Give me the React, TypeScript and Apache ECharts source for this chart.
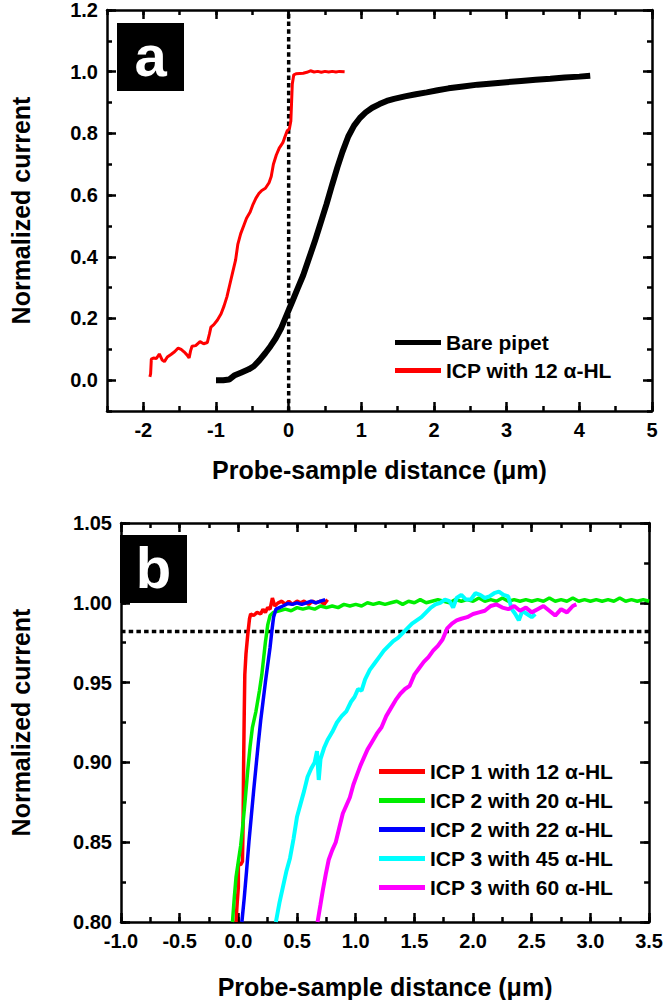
import React, { useEffect, useRef } from "react";
import * as echarts from "echarts";

const FONT = "Arial, 'Liberation Sans', Helvetica, sans-serif";

// ---------- Panel a ----------
const aMajorX = [-2, -1, 0, 1, 2, 3, 4, 5];
const aMajorY = [0, 0.2, 0.4, 0.6, 0.8, 1.0, 1.2];

const barePipet: number[][] = [
  [-1.0, 0.0], [-0.9, 0.0], [-0.82, 0.002], [-0.75, 0.015], [-0.65, 0.025], [-0.55, 0.035],
  [-0.48, 0.045], [-0.4, 0.065], [-0.32, 0.088], [-0.25, 0.11], [-0.18, 0.135], [-0.1, 0.17],
  [-0.03, 0.21], [0.05, 0.255], [0.12, 0.295], [0.2, 0.34], [0.28, 0.395], [0.36, 0.45],
  [0.44, 0.51], [0.52, 0.57], [0.6, 0.635], [0.67, 0.69], [0.74, 0.74], [0.82, 0.79],
  [0.9, 0.825], [0.98, 0.85], [1.06, 0.868], [1.15, 0.883], [1.25, 0.895], [1.35, 0.905],
  [1.45, 0.912], [1.6, 0.92], [1.75, 0.927], [1.9, 0.933], [2.05, 0.94], [2.2, 0.946],
  [2.4, 0.952], [2.6, 0.958], [2.8, 0.962], [3.0, 0.966], [3.2, 0.97], [3.4, 0.974],
  [3.6, 0.977], [3.8, 0.981], [4.0, 0.984], [4.15, 0.987],
];

const icp12: number[][] = [
  [-1.91, 0.011], [-1.9, 0.02], [-1.89, 0.068], [-1.86, 0.072], [-1.82, 0.07], [-1.78, 0.085],
  [-1.74, 0.065], [-1.71, 0.06], [-1.67, 0.075], [-1.62, 0.083], [-1.57, 0.092], [-1.52, 0.104],
  [-1.48, 0.1], [-1.44, 0.092], [-1.4, 0.082], [-1.37, 0.072], [-1.35, 0.095], [-1.33, 0.11],
  [-1.28, 0.112], [-1.22, 0.125], [-1.17, 0.118], [-1.12, 0.122], [-1.09, 0.15], [-1.07, 0.172],
  [-1.03, 0.18], [-0.98, 0.195], [-0.93, 0.215], [-0.89, 0.24], [-0.85, 0.27], [-0.81, 0.31],
  [-0.77, 0.35], [-0.73, 0.39], [-0.7, 0.44], [-0.66, 0.475], [-0.62, 0.5], [-0.58, 0.525],
  [-0.53, 0.545], [-0.49, 0.57], [-0.45, 0.59], [-0.41, 0.605], [-0.37, 0.615], [-0.32, 0.622],
  [-0.27, 0.64], [-0.24, 0.66], [-0.21, 0.7], [-0.17, 0.73], [-0.13, 0.752], [-0.08, 0.77],
  [-0.05, 0.79], [-0.02, 0.808], [0.01, 0.815], [0.03, 0.84], [0.04, 0.9], [0.05, 0.96],
  [0.07, 0.99], [0.1, 0.993], [0.15, 0.994], [0.2, 0.995], [0.25, 0.998], [0.3, 1.003],
  [0.35, 0.999], [0.4, 1.001], [0.45, 0.998], [0.5, 1.001], [0.55, 0.999], [0.6, 1.001],
  [0.65, 0.999], [0.7, 1.001], [0.77, 1.0],
];

const aRefLine: number[][] = [[0, -0.1], [0, 1.2]];

// ---------- Panel b ----------
const bMajorX = [-1.0, -0.5, 0.0, 0.5, 1.0, 1.5, 2.0, 2.5, 3.0, 3.5];
const bMajorY = [0.8, 0.85, 0.9, 0.95, 1.0, 1.05];

const icp1w12: number[][] = [
  [-0.02, 0.8], [-0.01, 0.812], [0.0, 0.822], [0.0, 0.836], [0.02, 0.836], [0.035, 0.838],
  [0.04, 0.86], [0.045, 0.9], [0.05, 0.93], [0.055, 0.955], [0.065, 0.968], [0.08, 0.98],
  [0.095, 0.99], [0.105, 0.993], [0.13, 0.992], [0.16, 0.994], [0.19, 0.993], [0.21, 0.996],
  [0.23, 0.994], [0.25, 0.997], [0.27, 0.996], [0.29, 1.003], [0.31, 0.998], [0.34, 1.0],
  [0.37, 1.001], [0.4, 0.999], [0.43, 1.001], [0.46, 0.999], [0.5, 1.001], [0.53, 1.0],
  [0.56, 1.001], [0.6, 0.999], [0.63, 1.001], [0.66, 1.0], [0.7, 1.001], [0.73, 0.999],
  [0.76, 1.002],
];

const icp2w20: number[][] = [
  [-0.05, 0.8], [-0.035, 0.815], [-0.02, 0.828], [0.0, 0.838], [0.02, 0.848], [0.04, 0.862],
  [0.06, 0.878], [0.08, 0.895], [0.1, 0.91], [0.12, 0.922], [0.15, 0.932], [0.18, 0.945],
  [0.2, 0.955], [0.215, 0.965], [0.23, 0.975], [0.25, 0.986], [0.27, 0.992], [0.3, 0.994],
  [0.35, 0.995], [0.4, 0.996], [0.45, 0.995], [0.5, 0.997], [0.55, 0.996], [0.6, 0.997],
  [0.65, 0.996], [0.7, 0.998], [0.75, 0.997], [0.8, 0.998], [0.85, 0.997], [0.9, 0.999],
  [0.95, 0.998], [1.0, 0.999], [1.05, 0.998], [1.1, 1.0], [1.15, 0.999], [1.2, 1.0],
  [1.25, 0.999], [1.3, 1.0], [1.35, 1.001], [1.4, 0.999], [1.45, 1.001], [1.5, 1.0],
  [1.55, 1.002], [1.6, 1.0], [1.65, 1.001], [1.7, 1.002], [1.75, 1.001], [1.8, 1.0],
  [1.85, 1.002], [1.9, 1.001], [1.95, 1.002], [2.0, 1.001], [2.05, 1.003], [2.1, 1.001],
  [2.15, 1.002], [2.2, 1.001], [2.25, 1.003], [2.3, 1.001], [2.35, 1.002], [2.4, 1.001],
  [2.45, 1.002], [2.5, 1.001], [2.55, 1.002], [2.6, 1.001], [2.65, 1.003], [2.7, 1.001],
  [2.75, 1.002], [2.8, 1.001], [2.85, 1.003], [2.9, 1.001], [2.95, 1.002], [3.0, 1.001],
  [3.05, 1.002], [3.1, 1.001], [3.15, 1.002], [3.2, 1.001], [3.25, 1.003], [3.3, 1.001],
  [3.35, 1.002], [3.4, 1.001], [3.45, 1.002], [3.5, 1.001],
];

const icp2w22: number[][] = [
  [0.03, 0.8], [0.05, 0.815], [0.07, 0.832], [0.09, 0.85], [0.11, 0.866], [0.13, 0.882],
  [0.15, 0.897], [0.17, 0.912], [0.19, 0.926], [0.21, 0.938], [0.23, 0.95], [0.25, 0.961],
  [0.27, 0.972], [0.285, 0.982], [0.3, 0.991], [0.32, 0.996], [0.35, 0.997], [0.38, 0.998],
  [0.42, 0.9995], [0.46, 0.999], [0.5, 1.0], [0.54, 0.999], [0.58, 1.0], [0.62, 1.001],
  [0.66, 1.0], [0.7, 1.001], [0.74, 1.002],
];

const icp3w45: number[][] = [
  [0.32, 0.8], [0.35, 0.812], [0.38, 0.822], [0.41, 0.832], [0.44, 0.84], [0.47, 0.852],
  [0.5, 0.866], [0.53, 0.874], [0.56, 0.882], [0.59, 0.891], [0.62, 0.896], [0.65, 0.9],
  [0.67, 0.907], [0.685, 0.889], [0.7, 0.902], [0.73, 0.909], [0.76, 0.914], [0.8, 0.919],
  [0.84, 0.925], [0.88, 0.929], [0.92, 0.932], [0.96, 0.938], [0.99, 0.941], [1.02, 0.946],
  [1.05, 0.945], [1.08, 0.952], [1.12, 0.958], [1.16, 0.962], [1.2, 0.966], [1.24, 0.97],
  [1.28, 0.973], [1.32, 0.976], [1.36, 0.978], [1.4, 0.981], [1.44, 0.984], [1.48, 0.987],
  [1.52, 0.989], [1.56, 0.991], [1.6, 0.994], [1.64, 0.997], [1.68, 0.999], [1.72, 1.0],
  [1.76, 1.002], [1.8, 1.001], [1.83, 0.997], [1.86, 1.003], [1.9, 1.005], [1.94, 1.002],
  [1.98, 1.002], [2.02, 1.006], [2.06, 1.005], [2.1, 1.003], [2.14, 1.004], [2.18, 1.006],
  [2.22, 1.007], [2.26, 1.005], [2.3, 1.004], [2.33, 0.996], [2.36, 0.993], [2.39, 0.989],
  [2.42, 0.995], [2.46, 0.993], [2.5, 0.991], [2.53, 0.993],
];

const icp3w60: number[][] = [
  [0.675, 0.8], [0.7, 0.811], [0.72, 0.82], [0.745, 0.83], [0.77, 0.839], [0.8, 0.845],
  [0.83, 0.85], [0.86, 0.859], [0.89, 0.868], [0.92, 0.873], [0.95, 0.878], [0.98, 0.886],
  [1.01, 0.892], [1.04, 0.898], [1.07, 0.903], [1.1, 0.908], [1.14, 0.913], [1.18, 0.918],
  [1.22, 0.922], [1.26, 0.929], [1.3, 0.934], [1.34, 0.939], [1.38, 0.943], [1.42, 0.946],
  [1.46, 0.948], [1.5, 0.955], [1.54, 0.959], [1.58, 0.963], [1.62, 0.966], [1.66, 0.97],
  [1.7, 0.973], [1.74, 0.977], [1.78, 0.984], [1.82, 0.987], [1.86, 0.989], [1.9, 0.99],
  [1.95, 0.991], [2.0, 0.993], [2.05, 0.994], [2.1, 0.995], [2.15, 0.998], [2.2, 0.999],
  [2.25, 0.997], [2.3, 0.996], [2.35, 0.998], [2.4, 0.995], [2.45, 0.997], [2.5, 0.994],
  [2.55, 0.996], [2.6, 0.998], [2.65, 0.995], [2.7, 0.992], [2.75, 0.996], [2.8, 0.994],
  [2.85, 0.998], [2.88, 0.999],
];

const bRefLine: number[][] = [[-1.0, 0.982], [3.5, 0.982]];

const labelStyle = {
  color: "#000",
  fontWeight: "bold",
  fontSize: 20,
  fontFamily: FONT,
};
const nameStyle = {
  color: "#000",
  fontWeight: "bold",
  fontSize: 25,
  fontFamily: FONT,
};
const tickLine = { color: "#000", width: 2.5 };

function buildAxes(
  dim: "x" | "y",
  gridIndex: number,
  min: number,
  max: number,
  step: number,
  majors: number[],
  fmt: (v: number) => string,
  name: string,
  nameGap: number
) {
  const sides = dim === "x" ? ["bottom", "top"] : ["left", "right"];
  const out: any[] = [];
  sides.forEach((pos, si) => {
    const base = { type: "value", gridIndex, position: pos, min, max, interval: step, splitLine: { show: false } };
    out.push({
      ...base,
      name: si === 0 ? name : "",
      nameLocation: "middle",
      nameGap,
      nameMoveOverlap: false,
      nameRotate: dim === "y" ? 90 : 0,
      nameTextStyle: nameStyle,
      axisLine: { show: true, onZero: false, lineStyle: { color: "#000", width: 2.5 } },
      axisTick: { show: true, inside: true, length: 9, customValues: majors, lineStyle: tickLine },
      axisLabel: {
        show: si === 0,
        customValues: majors,
        margin: 9,
        formatter: (v: number) => (majors.some((m) => Math.abs(m - v) < 1e-6) ? fmt(v) : ""),
        ...labelStyle,
      },
    });
    out.push({
      ...base,
      axisLine: { show: false, onZero: false },
      axisTick: { show: true, inside: true, length: 5, lineStyle: tickLine },
      axisLabel: { show: false },
    });
  });
  return out;
}

const lineSeries = (name: string, data: number[][], color: string, width: number, xi: number, yi: number) => ({
  name,
  type: "line",
  data,
  xAxisIndex: xi,
  yAxisIndex: yi,
  showSymbol: false,
  symbol: "none",
  color,
  lineStyle: { color, width },
  z: 3,
});

const refSeries = (data: number[][], xi: number, yi: number) => ({
  type: "line",
  data,
  xAxisIndex: xi,
  yAxisIndex: yi,
  showSymbol: false,
  symbol: "none",
  lineStyle: { color: "#000", width: 3.5, type: [4.5, 3.2] },
  z: 2,
});

const legendText = { color: "#000", fontWeight: "bold", fontSize: 21, fontFamily: FONT };

export default function App() {
  const ref = useRef<HTMLDivElement>(null);
  useEffect(() => {
    if (!ref.current) return;
    const chart = echarts.init(ref.current, undefined, { renderer: "svg" });
    const xAxes = [
      ...buildAxes("x", 0, -2.5, 5, 0.5, aMajorX, (v) => String(v), "Probe-sample distance (\u03bcm)", 46),
      ...buildAxes("x", 1, -1.0, 3.5, 0.25, bMajorX, (v) => v.toFixed(1), "Probe-sample distance (\u03bcm)", 52),
    ];
    const yAxes = [
      ...buildAxes("y", 0, -0.1, 1.2, 0.1, aMajorY, (v) => v.toFixed(1), "Normalized current", 74),
      ...buildAxes("y", 1, 0.8, 1.05, 0.025, bMajorY, (v) => v.toFixed(2), "Normalized current", 88),
    ];
    chart.setOption({
      animation: false,
      backgroundColor: "#fff",
      grid: [
        { left: 104, top: 9, width: 548, height: 402, containLabel: false },
        { left: 104, top: 523, width: 548, height: 400, containLabel: false },
      ],
      xAxis: xAxes,
      yAxis: yAxes,
      legend: [
        {
          data: ["Bare pipet", "ICP with 12 \u03b1-HL"],
          orient: "vertical",
          left: 395,
          top: 332,
          padding: 0,
          itemWidth: 46,
          itemHeight: 5,
          itemGap: 7,
          icon: "rect",
          selectedMode: false,
          textStyle: legendText,
        },
        {
          data: [
            "ICP 1 with 12 \u03b1-HL",
            "ICP 2 with 20 \u03b1-HL",
            "ICP 2 with 22 \u03b1-HL",
            "ICP 3 with 45 \u03b1-HL",
            "ICP 3 with 60 \u03b1-HL",
          ],
          orient: "vertical",
          left: 379,
          top: 761,
          padding: 0,
          itemWidth: 46,
          itemHeight: 5,
          itemGap: 8,
          icon: "rect",
          selectedMode: false,
          textStyle: legendText,
        },
      ],
      series: [
        refSeries(aRefLine, 0, 0),
        lineSeries("Bare pipet", barePipet, "#000000", 6, 0, 0),
        lineSeries("ICP with 12 \u03b1-HL", icp12, "#ff0000", 3, 0, 0),
        refSeries(bRefLine, 4, 4),
        lineSeries("ICP 1 with 12 \u03b1-HL", icp1w12, "#ff0000", 3.5, 4, 4),
        lineSeries("ICP 2 with 20 \u03b1-HL", icp2w20, "#00ee00", 3.5, 4, 4),
        lineSeries("ICP 2 with 22 \u03b1-HL", icp2w22, "#0000ff", 3.5, 4, 4),
        lineSeries("ICP 3 with 45 \u03b1-HL", icp3w45, "#00ffff", 4, 4, 4),
        lineSeries("ICP 3 with 60 \u03b1-HL", icp3w60, "#ff00ff", 4, 4, 4),
      ],
      graphic: [
        { type: "rect", shape: { x: 117, y: 23, width: 67, height: 68 }, style: { fill: "#000" } },
        {
          type: "text",
          x: 150.5,
          y: 55,
          style: { text: "a", fill: "#fff", font: `bold 58px ${FONT}`, align: "center", verticalAlign: "middle" },
        },
        { type: "rect", shape: { x: 120, y: 535, width: 67, height: 68 }, style: { fill: "#000" } },
        {
          type: "text",
          x: 153.5,
          y: 567,
          style: { text: "b", fill: "#fff", font: `bold 58px ${FONT}`, align: "center", verticalAlign: "middle" },
        },
      ],
    });
    return () => chart.dispose();
  }, []);
  return (
    <div
      ref={ref}
      style={{ position: "absolute", left: 0, top: 0, width: 666, height: 1000, background: "#fff" }}
    />
  );
}
